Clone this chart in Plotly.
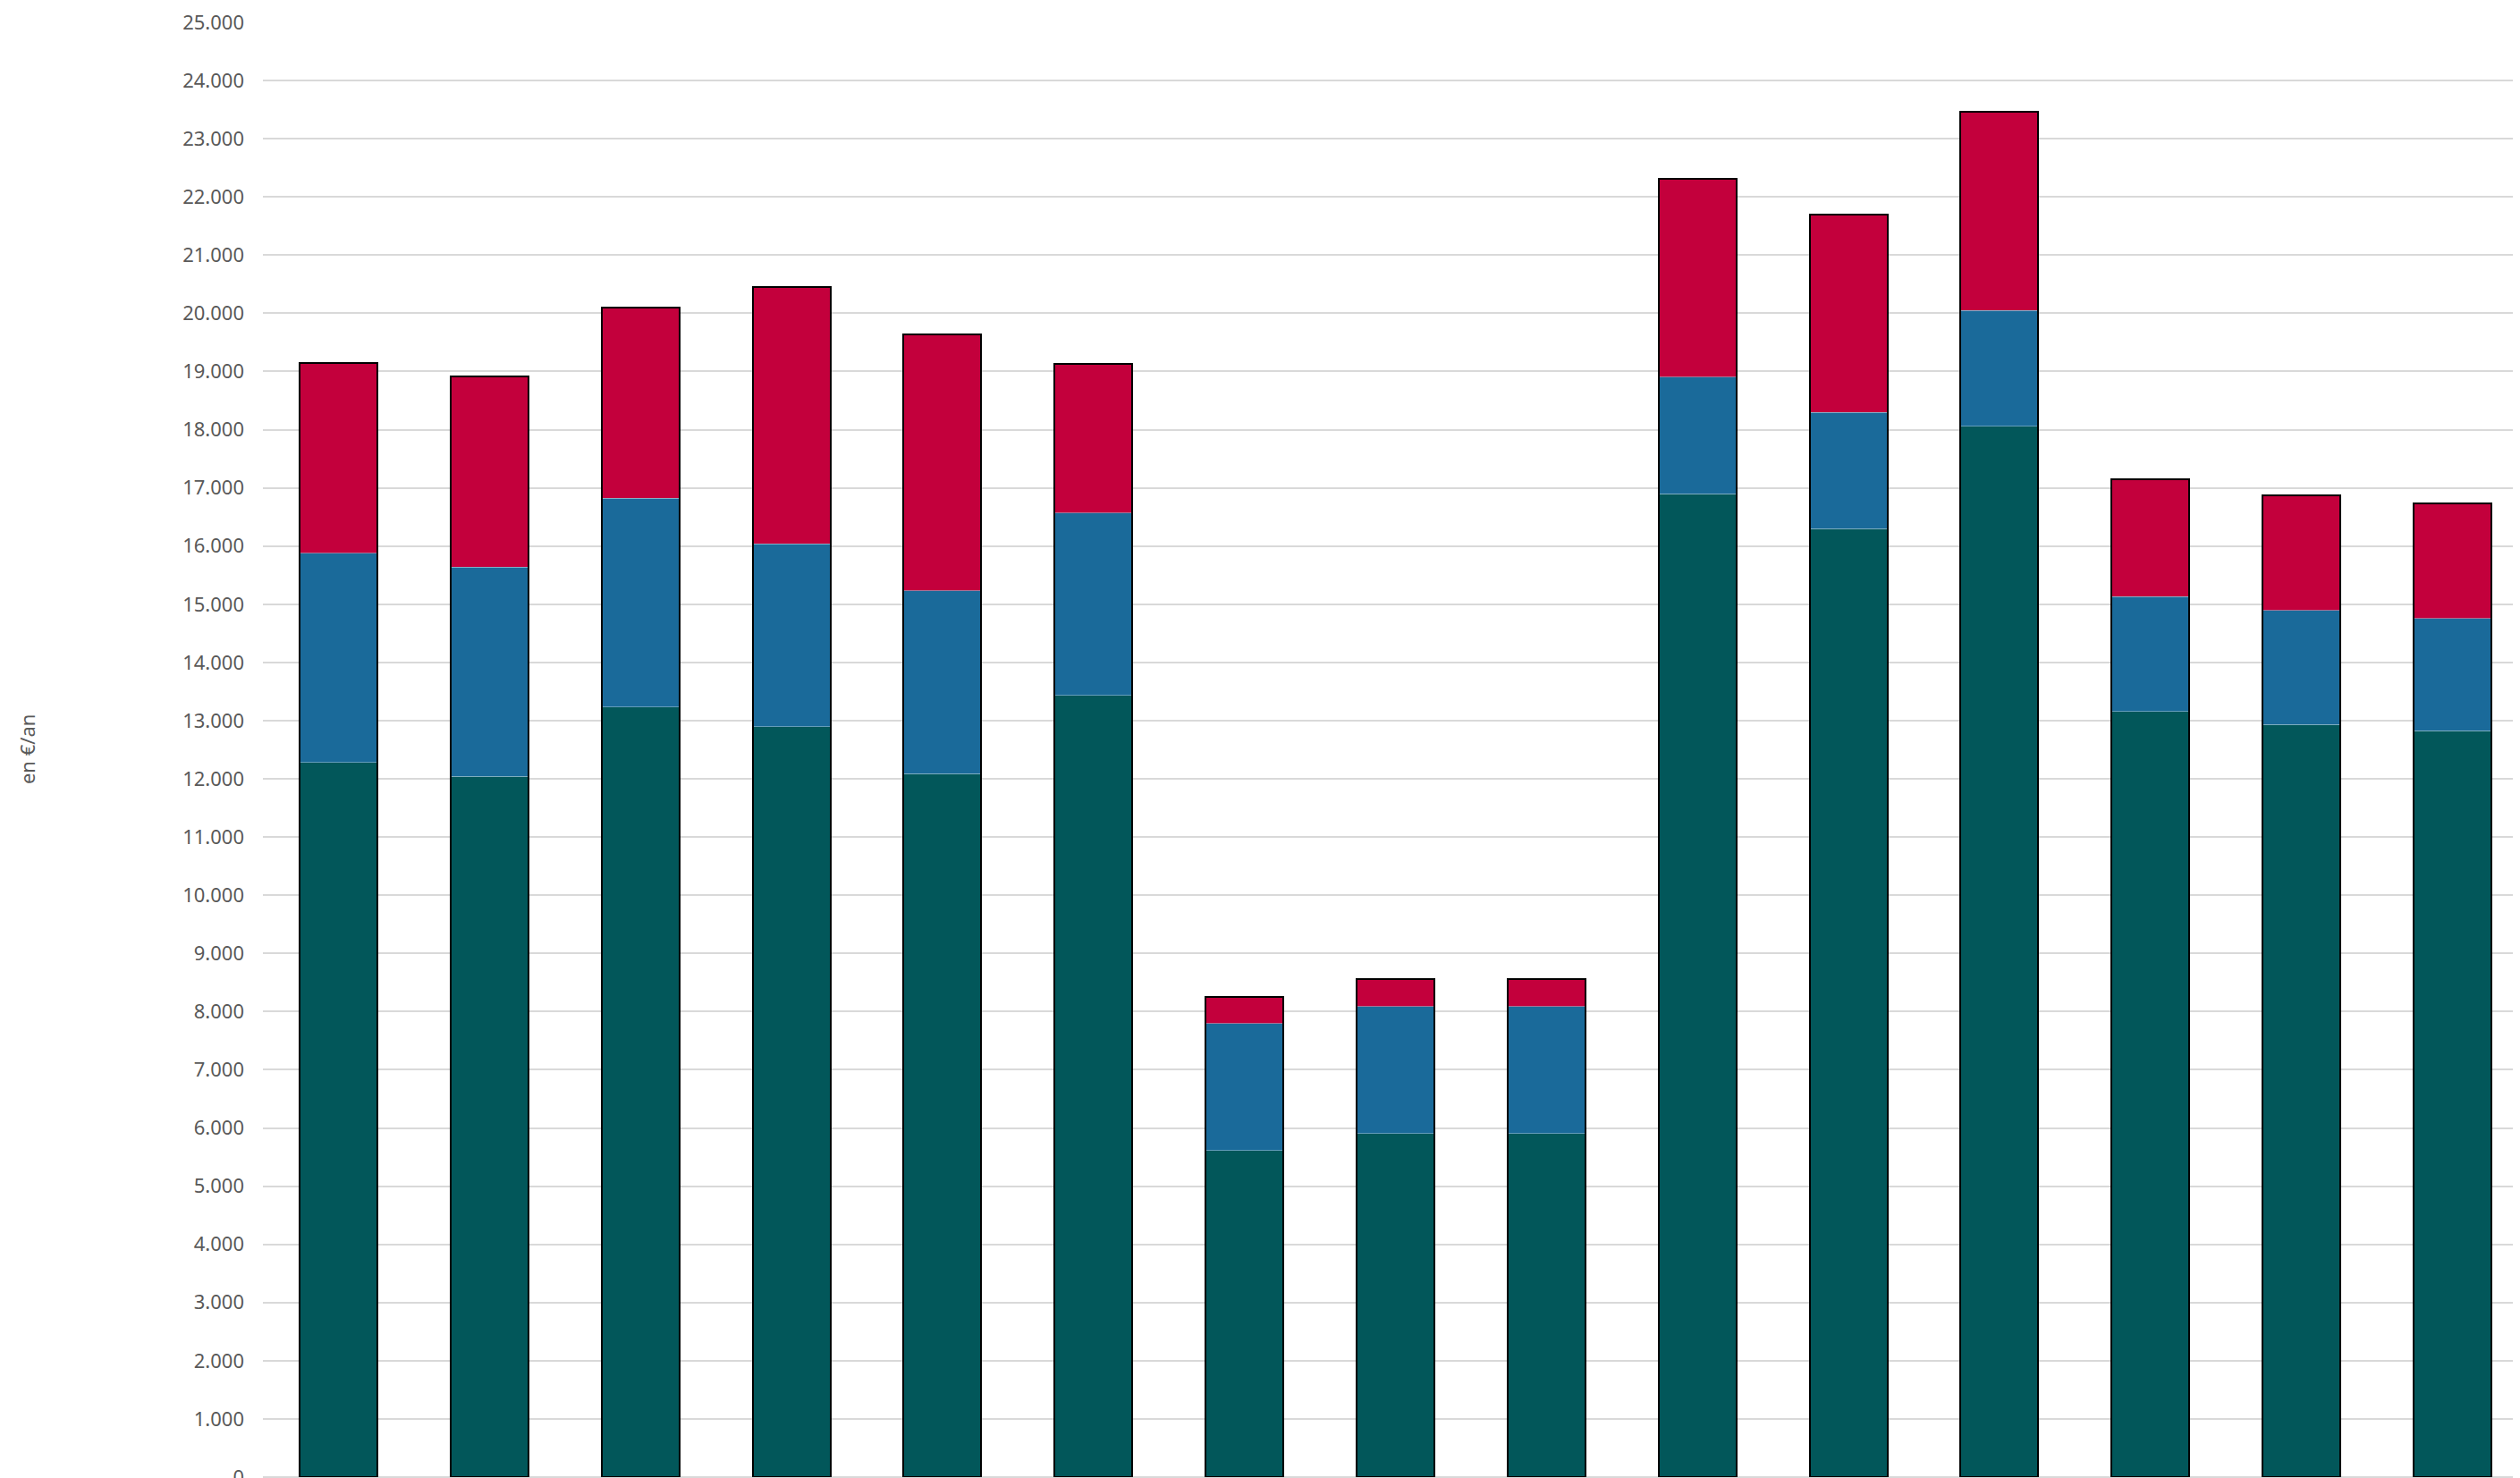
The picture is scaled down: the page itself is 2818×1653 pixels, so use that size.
import plotly.graph_objects as go

categories = [str(i) for i in range(1, 16)]
green_vals = [12280, 12040, 13235, 12895, 12090, 13436, 5616, 5903, 5903, 16900, 16300, 18056, 13154, 12933, 12826]
blue_vals = [3600, 3600, 3590, 3140, 3145, 3130, 2180, 2185, 2185, 2000, 2000, 1990, 1975, 1960, 1930]
red_vals = [3270, 3270, 3275, 4410, 4405, 2560, 460, 465, 465, 3415, 3400, 3410, 2015, 1985, 1970]
y_ticks = list(range(0, 25001, 1000))
y_title = "en €/an"

totals = [g + b + r for g, b, r in zip(green_vals, blue_vals, red_vals)]

# the page body has a default 8px margin, compensated here
W, H = 2818, 1653
L, R, T, B = 285.5, 0, 17.3, 8.7

seg_line = dict(color="rgba(150,190,210,0.6)", width=1)

fig = go.Figure()
fig.add_trace(go.Bar(x=categories, y=green_vals, marker=dict(color="#02575A", line=seg_line), name="a"))
fig.add_trace(go.Bar(x=categories, y=blue_vals, marker=dict(color="#1A6A9A", line=seg_line), name="b"))
fig.add_trace(go.Bar(x=categories, y=red_vals, marker=dict(color="#C3003C", line=seg_line), name="c"))
# outline around each full stack (drawn in overlay since base is set)
fig.add_trace(go.Bar(x=categories, y=totals, base=[0] * len(totals),
                     marker=dict(color="rgba(0,0,0,0)", line=dict(color="#000000", width=2)),
                     name="total", hoverinfo="skip"))

fig.update_layout(
    width=W, height=H,
    margin=dict(l=L, r=R, t=T, b=B, pad=0),
    barmode="stack",
    bargap=0.485,
    showlegend=False,
    plot_bgcolor="white",
    paper_bgcolor="white",
    separators=",.",
    font=dict(family="Noto Sans", size=22, color="#595959"),
)
fig.update_xaxes(
    type="category",
    range=[-0.5, 14.494],
    showticklabels=False,
    showgrid=False,
    showline=False,
    zeroline=False,
    ticks="",
    automargin=False,
)
fig.update_yaxes(
    range=[0, 25000],
    tickvals=y_ticks,
    tickformat=",d",
    showgrid=True,
    gridcolor="#D9D9D9",
    gridwidth=2,
    zeroline=True,
    zerolinecolor="#D9D9D9",
    zerolinewidth=2,
    showline=False,
    ticks="",
    ticklabelstandoff=20,
    ticklabeloverflow="allow",
    automargin=False,
    tickfont=dict(family="Noto Sans", size=22, color="#595959"),
)
fig.add_annotation(
    text=y_title, xref="paper", yref="paper",
    x=(21 - L) / (W - L), y=0.5, xanchor="center", yanchor="middle",
    textangle=-90, showarrow=False,
    font=dict(family="Noto Sans", size=22, color="#595959"),
)

fig.write_html("out.html")
